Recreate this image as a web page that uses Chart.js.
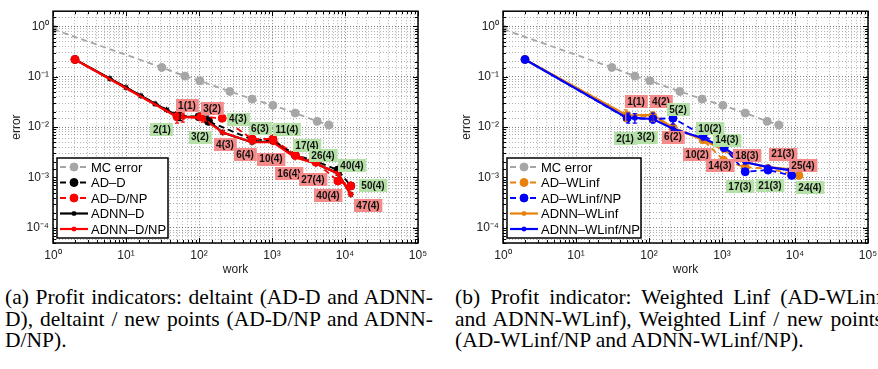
<!DOCTYPE html>
<html>
<head>
<meta charset="utf-8">
<script src="https://cdn.jsdelivr.net/npm/chart.js@4.4.1/dist/chart.umd.min.js"></script>
<style>
  body { margin: 0; width: 878px; height: 369px; overflow: hidden; background: #fff; position: relative; }
  canvas.plot { position: absolute; top: 0; }
  .caption { position: absolute; top: 287px; width: 428px; font: 21.5px 'Liberation Serif', serif; line-height: 21.7px; color: #000; }
  .caption .j { text-align: justify; text-align-last: justify; }
  .caption div { white-space: nowrap; }
</style>
</head>
<body>
<canvas id="chart-a" class="plot" width="440" height="280" style="left:0"></canvas>
<canvas id="chart-b" class="plot" width="440" height="280" style="left:450px"></canvas>
<div class="caption" style="left:5px">
  <div class="j">(a) Profit indicators: deltaint (AD-D and ADNN-</div>
  <div class="j">D), deltaint / new points (AD-D/NP and ADNN-</div>
  <div>D/NP).</div>
</div>
<div class="caption" style="left:455px">
  <div class="j">(b) Profit indicator: Weighted Linf (AD-WLinf</div>
  <div class="j">and ADNN-WLinf), Weighted Linf / new points</div>
  <div>(AD-WLinf/NP and ADNN-WLinf/NP).</div>
</div>
<script>
// --- Data (work vs. error) ---
const mcWork = [1, 31, 64, 103, 265, 533, 1030, 2080, 4160, 6000];
const mcErr  = [0.88, 0.153, 0.103, 0.083, 0.051, 0.036, 0.027, 0.019, 0.013, 0.011];

// (a) deltaint
const adDWork = [2, 50, 100, 135, 540, 1030, 2080, 4000, 8000, 12000];
const adDErr  = [0.22, 0.017, 0.016, 0.013, 0.0056, 0.0055, 0.0028, 0.0021, 0.0014, 0.00068];
const adDNpWork = [2, 50, 105, 208, 535, 1030, 2080, 4000, 8000, 12000];
const adDNpErr  = [0.22, 0.016, 0.016, 0.015, 0.0058, 0.0058, 0.0028, 0.002, 0.00085, 0.00068];
const adnnDWork = [2, 6, 10, 16, 25, 36, 50, 60, 100, 130, 210, 530, 1030, 2080, 4000, 8000, 12000];
const adnnDErr  = [0.22, 0.092, 0.061, 0.042, 0.029, 0.022, 0.017, 0.016, 0.016, 0.014, 0.0078, 0.005, 0.0052, 0.0026, 0.0019, 0.0012, 0.00046];
const adnnDNpWork = [2, 50, 60, 113, 213, 535, 1030, 2080, 4000, 8000, 12000];
const adnnDNpErr  = [0.22, 0.016, 0.016, 0.015, 0.0078, 0.005, 0.005, 0.0025, 0.0019, 0.0012, 0.00046];

// (b) weighted Linf
const adWWork = [2, 50, 113, 213, 550, 1050, 2080, 4270, 11300];
const adWErr  = [0.22, 0.017, 0.0165, 0.0097, 0.0056, 0.0022, 0.0016, 0.0015, 0.0011];
const adWNpWork = [2, 50, 113, 213, 550, 1070, 2080, 4270, 9000];
const adWNpErr  = [0.22, 0.015, 0.0145, 0.015, 0.0069, 0.0039, 0.0013, 0.0014, 0.0011];
const adnnWWork = [2, 50, 113, 213, 550, 1050, 2080, 4270, 11300];
const adnnWErr  = [0.22, 0.017, 0.0175, 0.0097, 0.0056, 0.0035, 0.002, 0.0016, 0.0014];
const adnnWNpWork = [2, 50, 64, 113, 213, 550, 1070, 2080, 4270, 8500];
const adnnWNpErr  = [0.22, 0.0152, 0.0152, 0.0145, 0.0093, 0.006, 0.0039, 0.002, 0.0016, 0.0014];

// --- Error bars: work, low, high ---
const barsARed   = [[50, 0.012, 0.020], [60, 0.0125, 0.019], [113, 0.0125, 0.019]];
const barsABlack = [[55, 0.0135, 0.0195], [130, 0.012, 0.0165]];
const barsBBlue   = [[52, 0.012, 0.019], [64, 0.012, 0.0185], [113, 0.012, 0.019], [213, 0.0115, 0.018]];
const barsBOrange = [[48, 0.013, 0.022], [113, 0.013, 0.020]];

// --- Annotation tags: text and anchor (work, error) ---
const tagsARedText = ['1(1)', '3(2)', '4(3)', '6(4)', '10(4)', '16(4)', '27(4)', '40(4)', '47(4)'];
const tagsARedAt   = [[68.5, 0.0266], [151, 0.0233], [227, 0.00444], [427, 0.00287], [969, 0.0023], [1710, 0.0012], [3645, 0.00092], [5850, 0.00044], [20650, 0.00028]];
const tagsAGreenText = ['2(1)', '3(2)', '4(3)', '6(3)', '11(4)', '17(4)', '26(4)', '40(4)', '50(4)'];
const tagsAGreenAt   = [[31, 0.0089], [103, 0.0063], [342, 0.0144], [685, 0.0093], [1605, 0.0089], [3015, 0.00425], [5000, 0.00274], [12480, 0.0017], [24200, 0.00068]];
const tagsBRedText = ['1(1)', '4(2)', '6(2)', '10(2)', '14(3)', '18(3)', '21(3)', '25(4)'];
const tagsBRedAt   = [[66.4, 0.0317], [146, 0.0317], [213, 0.0063], [455, 0.00287], [939, 0.0017], [2200, 0.00274], [6850, 0.0029], [12880, 0.0017]];
const tagsBGreenText = ['2(1)', '3(2)', '5(2)', '10(2)', '14(3)', '17(3)', '21(3)', '24(4)'];
const tagsBGreenAt   = [[47, 0.006], [91, 0.0063], [250, 0.0223], [685, 0.0093], [1170, 0.0055], [1765, 0.00065], [4545, 0.00068], [16050, 0.00062]];

const RED_TAG = '#f48a8a';
const GREEN_TAG = '#b5e1a8';
const ORANGE = '#e8800c';

// --- Helpers ---
const SUP = { '0': '⁰', '1': '¹', '2': '²', '3': '³', '4': '⁴', '5': '⁵', '-': '⁻' };
function isDecade(v) {
  const e = Math.log10(v);
  return Math.abs(e - Math.round(e)) < 1e-6;
}
function powLabel(v) {
  if (!isDecade(v)) return '';
  return '10' + String(Math.round(Math.log10(v))).split('').map((c) => SUP[c]).join('');
}

function series(label, work, err, color, dashed, marker, order) {
  return {
    label,
    data: work.map((w, i) => ({ x: w, y: err[i] })),
    showLine: true,
    order,
    borderColor: color,
    backgroundColor: color,
    borderWidth: dashed ? 1.8 : 2.2,
    borderDash: dashed ? [6, 4] : [],
    pointStyle: marker,
    pointRadius: marker === 'circle' ? 4 : 3,
    pointBorderColor: color,
    pointBackgroundColor: color,
    pointBorderWidth: marker === 'star' ? 1.3 : 1,
  };
}

function makeTags(texts, anchors, fill) {
  return texts.map((t, i) => ({ text: t, x: anchors[i][0], y: anchors[i][1], fill }));
}
function makeBars(rows, color) {
  return rows.map((r) => ({ x: r[0], lo: r[1], hi: r[2], color }));
}

// --- Plugin: error bars, tags, frame, inward ticks, boxed legend ---
const matlabLook = {
  id: 'matlabLook',
  afterDatasetsDraw(chart, args, opts) {
    const { ctx, chartArea: a, scales } = chart;
    ctx.save();

    // error bars
    ctx.lineWidth = 1.3;
    (opts.bars || []).forEach((b) => {
      const px = scales.x.getPixelForValue(b.x);
      const y1 = scales.y.getPixelForValue(b.lo);
      const y2 = scales.y.getPixelForValue(b.hi);
      ctx.strokeStyle = b.color;
      ctx.beginPath();
      ctx.moveTo(px, y1); ctx.lineTo(px, y2);
      ctx.moveTo(px - 2, y1); ctx.lineTo(px + 2, y1);
      ctx.moveTo(px - 2, y2); ctx.lineTo(px + 2, y2);
      ctx.stroke();
    });

    // tags
    ctx.font = 'bold 10px "Liberation Sans", Arial, sans-serif';
    ctx.textAlign = 'center';
    ctx.textBaseline = 'middle';
    (opts.tags || []).forEach((t) => {
      const px = scales.x.getPixelForValue(t.x);
      const py = scales.y.getPixelForValue(t.y);
      const w = ctx.measureText(t.text).width + 5;
      const h = 13;
      ctx.fillStyle = t.fill;
      ctx.fillRect(Math.round(px - w / 2), Math.round(py - h / 2), w, h);
      ctx.fillStyle = '#111';
      ctx.fillText(t.text, px, py + 0.5);
    });

    // frame + inward ticks
    ctx.strokeStyle = '#000';
    ctx.lineWidth = 1;
    ctx.setLineDash([]);
    ctx.beginPath();
    scales.x.ticks.forEach((tk) => {
      const px = Math.round(scales.x.getPixelForValue(tk.value)) + 0.5;
      const len = isDecade(tk.value) ? 5 : 3;
      ctx.moveTo(px, a.bottom); ctx.lineTo(px, a.bottom - len);
      ctx.moveTo(px, a.top); ctx.lineTo(px, a.top + len);
    });
    scales.y.ticks.forEach((tk) => {
      const py = Math.round(scales.y.getPixelForValue(tk.value)) + 0.5;
      const len = isDecade(tk.value) ? 5 : 3;
      ctx.moveTo(a.left, py); ctx.lineTo(a.left + len, py);
      ctx.moveTo(a.right, py); ctx.lineTo(a.right - len, py);
    });
    ctx.stroke();
    ctx.lineWidth = 1.5;
    ctx.strokeRect(a.left, a.top, a.right - a.left, a.bottom - a.top);

    // legend box
    const lw = opts.legendWidth;
    const lh = 80;
    const x0 = a.left + 4;
    const y0 = a.bottom - 5 - lh;
    ctx.fillStyle = '#fff';
    ctx.fillRect(x0, y0, lw, lh);
    ctx.lineWidth = 1.5;
    ctx.strokeRect(x0, y0, lw, lh);
    ctx.font = '13px "Liberation Sans", Arial, sans-serif';
    ctx.textAlign = 'left';
    ctx.textBaseline = 'middle';
    chart.data.datasets.forEach((ds, i) => {
      const y = y0 + 9 + i * 15.5;
      ctx.strokeStyle = ds.borderColor;
      ctx.lineWidth = ds.borderWidth;
      ctx.setLineDash(ds.borderDash);
      ctx.beginPath();
      ctx.moveTo(x0 + 3, y);
      ctx.lineTo(x0 + 31, y);
      ctx.stroke();
      ctx.setLineDash([]);
      ctx.fillStyle = ds.pointBackgroundColor;
      ctx.strokeStyle = ds.pointBorderColor;
      ctx.lineWidth = ds.pointBorderWidth;
      Chart.helpers.drawPoint(ctx, {
        pointStyle: ds.pointStyle,
        radius: ds.pointStyle === 'circle' ? 4 : 2.5,
        borderWidth: ds.pointBorderWidth,
        rotation: 0,
      }, x0 + 17, y);
      ctx.fillStyle = '#000';
      ctx.fillText(ds.label, x0 + 34, y + 1);
    });
    ctx.restore();
  },
};

// --- Shared options ---
const gridColor = (c) => (c.tick && isDecade(c.tick.value) ? 'rgba(0,0,0,0.5)' : 'rgba(0,0,0,0.3)');
const tickFont = { family: '"Liberation Sans", Arial, sans-serif', size: 12 };

function chartOptions(tags, bars, legendWidth) {
  return {
    responsive: false,
    animation: false,
    devicePixelRatio: 1,
    layout: { padding: { top: 1, right: 22, left: 0, bottom: 0 } },
    plugins: {
      legend: { display: false },
      tooltip: { enabled: false },
      matlabLook: { tags, bars, legendWidth },
    },
    scales: {
      x: {
        type: 'logarithmic',
        min: 1,
        max: 100000,
        afterFit: (s) => { s.height = 37; },
        grid: { color: gridColor, drawTicks: false, lineWidth: 1 },
        border: { display: false, dash: [1, 2] },
        ticks: { autoSkip: false, maxRotation: 0, padding: 5, color: '#222', font: tickFont, callback: powLabel },
        title: { display: true, text: 'work', color: '#222', font: tickFont, padding: { top: 0, bottom: 3 } },
      },
      y: {
        type: 'logarithmic',
        min: 0.00005,
        max: 2,
        afterFit: (s) => { s.width = 53; },
        grid: { color: gridColor, drawTicks: false, lineWidth: 1 },
        border: { display: false, dash: [1, 2] },
        ticks: { autoSkip: false, padding: 4, color: '#222', font: tickFont, callback: powLabel },
        title: { display: true, text: 'error', color: '#222', font: tickFont, padding: { top: 9, bottom: 0 } },
      },
    },
  };
}

// --- Chart (a) ---
new Chart(document.getElementById('chart-a'), {
  type: 'scatter',
  data: {
    datasets: [
      series('MC error', mcWork, mcErr, '#a6a6a6', true, 'circle', 4),
      series('AD–D', adDWork, adDErr, '#000000', true, 'circle', 3),
      series('AD–D/NP', adDNpWork, adDNpErr, '#ff0000', true, 'circle', 1),
      series('ADNN–D', adnnDWork, adnnDErr, '#000000', false, 'star', 2),
      series('ADNN–D/NP', adnnDNpWork, adnnDNpErr, '#ff0000', false, 'star', 0),
    ],
  },
  options: chartOptions(
    makeTags(tagsARedText, tagsARedAt, RED_TAG).concat(makeTags(tagsAGreenText, tagsAGreenAt, GREEN_TAG)),
    makeBars(barsABlack, '#000000').concat(makeBars(barsARed, '#ff0000')),
    111
  ),
  plugins: [matlabLook],
});

// --- Chart (b) ---
new Chart(document.getElementById('chart-b'), {
  type: 'scatter',
  data: {
    datasets: [
      series('MC error', mcWork, mcErr, '#a6a6a6', true, 'circle', 4),
      series('AD–WLinf', adWWork, adWErr, ORANGE, true, 'circle', 2),
      series('AD–WLinf/NP', adWNpWork, adWNpErr, '#0000ff', true, 'circle', 1),
      series('ADNN–WLinf', adnnWWork, adnnWErr, ORANGE, false, 'star', 3),
      series('ADNN–WLinf/NP', adnnWNpWork, adnnWNpErr, '#0000ff', false, 'star', 0),
    ],
  },
  options: chartOptions(
    makeTags(tagsBRedText, tagsBRedAt, RED_TAG).concat(makeTags(tagsBGreenText, tagsBGreenAt, GREEN_TAG)),
    makeBars(barsBOrange, ORANGE).concat(makeBars(barsBBlue, '#0000ff')),
    134
  ),
  plugins: [matlabLook],
});
</script>
</body>
</html>
